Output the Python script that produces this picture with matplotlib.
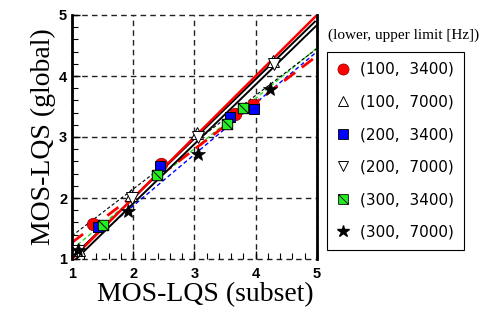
import matplotlib
matplotlib.use("Agg")
import matplotlib.pyplot as plt
import numpy as np
from matplotlib.path import Path
from matplotlib.lines import Line2D

# ---- data ----
labels = ["(100,  3400)", "(100,  7000)", "(200,  3400)",
          "(200,  7000)", "(300,  3400)", "(300,  7000)"]

red_x = [1.35, 2.45, 3.66, 3.96]
red_y = [1.58, 2.55, 3.38, 3.52]
tri_up_x = [1.12, 1.97, 3.04, 4.28]
tri_up_y = [1.15, 2.05, 3.06, 4.24]
blue_x = [1.43, 2.43, 3.58, 3.97]
blue_y = [1.53, 2.53, 3.33, 3.46]
tri_dn_x = [1.10, 1.98, 3.05, 4.30]
tri_dn_y = [1.13, 2.00, 3.00, 4.20]
green_x = [1.51, 2.38, 3.53, 3.80]
green_y = [1.56, 2.38, 3.22, 3.47]
star_x = [1.10, 1.92, 3.06, 4.23]
star_y = [1.14, 1.79, 2.72, 3.78]

# fitted lines: value at x=1 and x=5
line_x = [1, 5]
red_solid = [1.00, 5.00]
black_double = [0.98, 4.88]
black_dash = [1.38, 4.45]
red_dash = [1.27, 4.33]
green_dot = [1.16, 4.46]
blue_dot = [1.03, 4.40]

ticks = [1, 2, 3, 4, 5]

# ---- figure ----
fig = plt.figure(figsize=(4.87, 3.20), dpi=100)
ax = fig.add_axes([72/487, 1-259/320, 245/487, 244/320])
ax.set_xlim(1, 5)
ax.set_ylim(1, 5)

# grid
for v in ticks:
    ax.axhline(v, color="#222222", lw=1.0, ls=(0, (4, 3)), zorder=0.5, clip_on=False)
    ax.axvline(v, color="#222222", lw=1.0, ls=(0, (4, 3)), zorder=0.5, clip_on=False)

# lines
ax.plot(line_x, blue_dot, color="blue", lw=1.0, ls=(0, (3, 2)), zorder=1)
ax.plot(line_x, green_dot, color="#22dd22", lw=1.0, ls=(0, (3, 2)), zorder=1)
ax.plot(line_x, black_dash, color="black", lw=0.8, ls=(0, (3, 2)), zorder=1)
ax.plot(line_x, red_dash, color="red", lw=2.0, ls=(0, (5, 3)), zorder=1)
ax.plot(line_x, black_double, color="black", lw=4.2, zorder=1.2, solid_capstyle="butt")
ax.plot(line_x, black_double, color="white", lw=1.4, zorder=1.3, solid_capstyle="butt")
ax.plot(line_x, red_solid, color="red", lw=1.8, zorder=1.4, solid_capstyle="butt")

# green square with diagonal marker
sq_diag = Path([(-1, 1), (1, 1), (1, -1), (-1, -1), (-1, 1), (-1, 1), (1, -1)],
               [Path.MOVETO, Path.LINETO, Path.LINETO, Path.LINETO, Path.CLOSEPOLY,
                Path.MOVETO, Path.LINETO])

ms = 8.5
ax.plot(tri_up_x, tri_up_y, ls="none", marker="^", ms=ms, mfc="white", mec="black", mew=0.7, zorder=3)
ax.plot(tri_dn_x, tri_dn_y, ls="none", marker="v", ms=ms, mfc="white", mec="black", mew=0.7, zorder=3)
ax.plot(red_x, red_y, ls="none", marker="o", ms=9, mfc="red", mec="#880000", mew=0.5, zorder=3)
ax.plot(blue_x, blue_y, ls="none", marker="s", ms=7.5, mfc="blue", mec="black", mew=0.7, zorder=3)
ax.plot(green_x, green_y, ls="none", marker=sq_diag, ms=7.5, mfc="#22ee22", mec="black", mew=0.7, zorder=3)
ax.plot(star_x, star_y, ls="none", marker="*", ms=10, mfc="black", mec="black", mew=0.5, zorder=3)

# spines
for s in ["top", "bottom"]:
    ax.spines[s].set_visible(False)
for s in ["left", "right"]:
    ax.spines[s].set_linewidth(2.0)
    ax.spines[s].set_color("black")

ax.set_xticks(ticks)
ax.set_yticks(ticks)
ax.set_xticks(np.arange(1, 5.01, 0.2), minor=True)
ax.set_yticks(np.arange(1, 5.01, 0.2), minor=True)
ax.tick_params(which="both", direction="in", top=False, right=False)
ax.tick_params(which="major", length=6, width=1.0)
ax.tick_params(which="minor", length=4, width=0.8)
ax.tick_params(axis="x", pad=6)
for lab in ax.get_xticklabels() + ax.get_yticklabels():
    lab.set_fontfamily("Liberation Sans")
    lab.set_fontweight("bold")
    lab.set_fontsize(10.5)

ax.set_xlabel("MOS-LQS (subset)", family="Liberation Serif", fontsize=20, labelpad=3)
ax.xaxis.set_label_coords(0.545, -0.095)
ax.xaxis.label.set_va("top")
ax.set_ylabel("MOS-LQS (global)", family="Liberation Serif", fontsize=20, labelpad=2)

# legend
handles = [
    Line2D([], [], ls="none", marker="o", ms=8, mfc="red", mec="#880000", mew=0.5),
    Line2D([], [], ls="none", marker="^", ms=7, mfc="white", mec="black", mew=0.7),
    Line2D([], [], ls="none", marker="s", ms=7, mfc="blue", mec="black", mew=0.6),
    Line2D([], [], ls="none", marker="v", ms=7, mfc="white", mec="black", mew=0.7),
    Line2D([], [], ls="none", marker=sq_diag, ms=7, mfc="#22ee22", mec="black", mew=0.6),
    Line2D([], [], ls="none", marker="*", ms=9, mfc="black", mec="black"),
]
leg = ax.legend(handles, labels, loc="upper left",
                bbox_to_anchor=(327/487, 1-52/320), bbox_transform=fig.transFigure,
                frameon=True, fancybox=False, edgecolor="black", framealpha=1,
                prop={"family": "DejaVu Sans", "size": 11},
                labelspacing=1.15, handlelength=0.8, handletextpad=0.7,
                borderpad=0.65, borderaxespad=0)
leg.get_frame().set_linewidth(0.8)

fig.text(328/487, 1-35/320, "(lower, upper limit [Hz])", family="Liberation Serif",
         fontsize=11, va="center", ha="left")

fig.savefig("out.png", dpi=100)
